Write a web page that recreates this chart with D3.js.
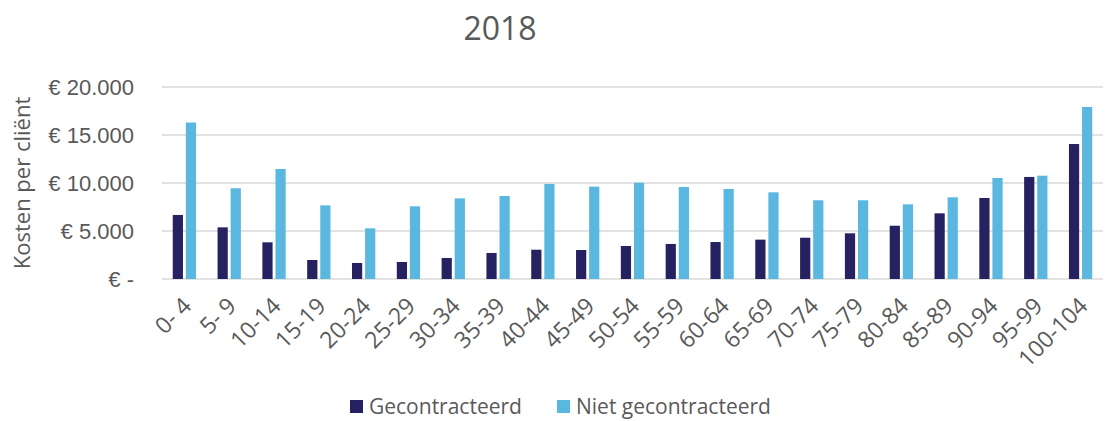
<!DOCTYPE html>
<html>
<head>
<meta charset="utf-8">
<script src="https://cdn.jsdelivr.net/npm/d3@7"></script>
<style>
  body { margin: 0; background: #fff; }
  svg { display: block; font-family: "Open Sans", sans-serif; }
</style>
</head>
<body>
<svg id="chart" width="1108" height="421"></svg>
<script>
// age groups and cost per client (euro)
const ageGroups = ["0- 4", "5- 9", "10-14", "15-19", "20-24", "25-29", "30-34", "35-39", "40-44", "45-49",
    "50-54", "55-59", "60-64", "65-69", "70-74", "75-79", "80-84", "85-89", "90-94", "95-99", "100-104"];
const gecontracteerd = [6670, 5380, 3820, 1980, 1670, 1770, 2190, 2710, 3050, 3020,
    3440, 3650, 3850, 4100, 4300, 4760, 5550, 6840, 8440, 10630, 14060];
const nietGecontracteerd = [16300, 9450, 11460, 7670, 5280, 7570, 8400, 8650, 9900, 9620,
    10030, 9580, 9380, 9030, 8200, 8200, 7780, 8510, 10520, 10760, 17920];
const seriesNames = ["Gecontracteerd", "Niet gecontracteerd"];
const yTicks = [0, 5000, 10000, 15000, 20000];

const colors = ["#262262", "#5AB8E0"];
const textColor = "#595959";

const svg = d3.select("#chart");
const plotLeft = 162, plotRight = 1103, plotTop = 87, plotBottom = 279;

const x0 = d3.scaleBand().domain(ageGroups).range([plotLeft, plotRight]).paddingInner(0.48).paddingOuter(0.24);
const x1 = d3.scaleBand().domain(seriesNames).range([0, x0.bandwidth()]).paddingInner(0.22);
const y = d3.scaleLinear().domain([0, 20000]).range([plotBottom, plotTop]);

const fmt = v => v === 0 ? "€ -" : "€ " + d3.format(",")(v).replace(/,/g, ".");

// gridlines
svg.append("g")
    .selectAll("line")
    .data(yTicks)
    .join("line")
    .attr("x1", plotLeft).attr("x2", plotRight)
    .attr("y1", d => y(d)).attr("y2", d => y(d))
    .attr("stroke", "#d9d9d9")
    .attr("stroke-width", 1.5);

// y labels
const yAxis = svg.append("g")
    .attr("transform", `translate(${plotLeft - 28},0)`)
    .call(d3.axisLeft(y).tickValues(yTicks).tickFormat(fmt).tickSize(0).tickPadding(0));
yAxis.select(".domain").remove();
yAxis.selectAll("text")
    .attr("fill", textColor)
    .style("font-size", "22px")
    .attr("dy", "0.35em");

// bars
const rows = ageGroups.map((g, i) => ({group: g, values: [gecontracteerd[i], nietGecontracteerd[i]]}));
svg.append("g")
    .selectAll("g")
    .data(rows)
    .join("g")
    .attr("transform", d => `translate(${x0(d.group)},0)`)
    .selectAll("rect")
    .data(d => d.values.map((v, k) => ({key: seriesNames[k], value: v, k})))
    .join("rect")
    .attr("x", d => x1(d.key))
    .attr("width", x1.bandwidth())
    .attr("y", d => y(d.value))
    .attr("height", d => y(0) - y(d.value))
    .attr("fill", d => colors[d.k]);

// x labels, rotated
svg.append("g")
    .selectAll("text")
    .data(ageGroups)
    .join("text")
    .attr("transform", d => `translate(${x0(d) + x0.bandwidth() / 2 - 3},${plotBottom + 17}) rotate(-45)`)
    .attr("text-anchor", "end")
    .attr("dy", "0.7em")
    .attr("fill", textColor)
    .style("font-size", "23px")
    .text(d => d);

// axis title
svg.append("text")
    .attr("transform", "translate(30,183) rotate(-90)")
    .attr("text-anchor", "middle")
    .attr("fill", textColor)
    .style("font-size", "22px")
    .text("Kosten per cliënt");

// chart title
svg.append("text")
    .attr("x", 500).attr("y", 40)
    .attr("text-anchor", "middle")
    .attr("fill", textColor)
    .style("font-size", "32px")
    .text("2018");

// legend
const legend = svg.append("g").attr("transform", "translate(350,414)");
const items = legend.selectAll("g")
    .data(seriesNames)
    .join("g")
    .attr("transform", (d, i) => `translate(${i * 207},0)`);
items.append("rect")
    .attr("x", 0).attr("y", -14)
    .attr("width", 13).attr("height", 13)
    .attr("fill", (d, i) => colors[i]);
items.append("text")
    .attr("x", 19)
    .attr("fill", textColor)
    .style("font-size", "21px")
    .text(d => d);
</script>
</body>
</html>
